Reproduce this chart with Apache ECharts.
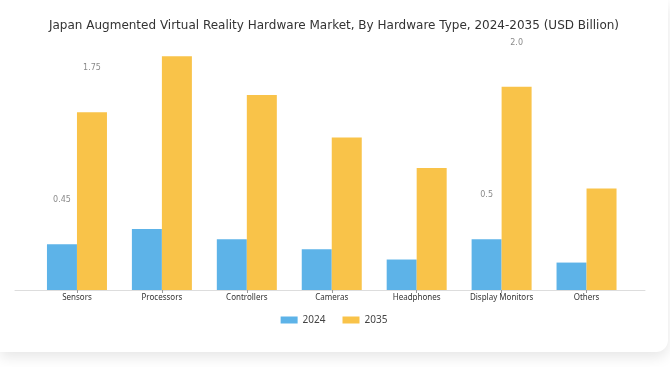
<!DOCTYPE html>
<html>
<head>
<meta charset="utf-8">
<script src="https://cdn.jsdelivr.net/npm/echarts@6/dist/echarts.min.js"></script>
<style>
  html, body { margin:0; padding:0; background:#ffffff; width:670px; height:367px; overflow:hidden; }
  #card { position:absolute; left:0; top:0; width:668px; height:352px; background:#fff; border-radius:0 0 12px 0; box-shadow:0 5px 14px rgba(0,0,0,0.10); }
  #chart { width:668px; height:352px; }
</style>
</head>
<body>
<div id="card"><div id="chart"></div></div>
<script>
const categories = ["Sensors", "Processors", "Controllers", "Cameras", "Headphones", "Display Monitors", "Others"];
const values2024 = [0.45, 0.60, 0.50, 0.40, 0.30, 0.50, 0.27];
const values2035 = [1.75, 2.30, 1.92, 1.50, 1.20, 2.00, 1.00];
const labeled2024 = ["0.45", null, null, null, null, "0.5", null];
const labeled2035 = ["1.75", null, null, null, null, "2.0", null];
const seriesNames = ["2024", "2035"];
const colors = ["#5DB3E8", "#F9C349"];

function buildData(values, labels) {
  return values.map((v, i) => {
    if (labels[i] === null) return { value: v };
    return {
      value: v,
      label: {
        show: true, position: 'top', distance: 5, offset: [0, -35],
        formatter: labels[i], color: '#8a8a8a', fontSize: 8,
        fontFamily: 'DejaVu Sans'
      }
    };
  });
}

const chart = echarts.init(document.getElementById('chart'));
chart.setOption({
  animation: false,
  title: {
    text: 'Japan Augmented Virtual Reality Hardware Market, By Hardware Type, 2024-2035 (USD Billion)',
    left: 'center', top: 15,
    textStyle: { fontFamily: 'DejaVu Sans', fontSize: 12, fontWeight: 'normal', color: '#333' }
  },
  legend: {
    data: seriesNames, top: 310, left: 'center',
    itemWidth: 17, itemHeight: 7, itemGap: 17,
    icon: 'rect',
    textStyle: { fontFamily: 'Noto Sans', fontSize: 10, color: '#444' }
  },
  grid: [
    { left: 34.5, right: 39, top: 36, bottom: 62 },
    { left: 15, right: 23, top: 36, bottom: 62 }
  ],
  xAxis: [
    {
      type: 'category', data: categories, gridIndex: 0,
      axisLine: { show: false },
      axisTick: { show: true, alignWithLabel: true, length: 3, lineStyle: { color: '#999' } },
      axisLabel: { fontFamily: 'Noto Sans', fontSize: 8, color: '#333', margin: 4, interval: 0 }
    },
    {
      type: 'category', data: [''], gridIndex: 1,
      axisLine: { show: true, lineStyle: { color: '#dddddd', width: 1 } },
      axisTick: { show: false }, axisLabel: { show: false }
    }
  ],
  yAxis: [
    { type: 'value', min: 0, max: 2.5, gridIndex: 0, show: false },
    { type: 'value', min: 0, max: 1, gridIndex: 1, show: false }
  ],
  series: [
    { name: seriesNames[0], type: 'bar', xAxisIndex: 0, yAxisIndex: 0, barWidth: 30, barGap: '0%',
      itemStyle: { color: colors[0] }, data: buildData(values2024, labeled2024) },
    { name: seriesNames[1], type: 'bar', xAxisIndex: 0, yAxisIndex: 0, barWidth: 30, barGap: '0%',
      itemStyle: { color: colors[1] }, data: buildData(values2035, labeled2035) }
  ]
});
</script>
</body>
</html>
